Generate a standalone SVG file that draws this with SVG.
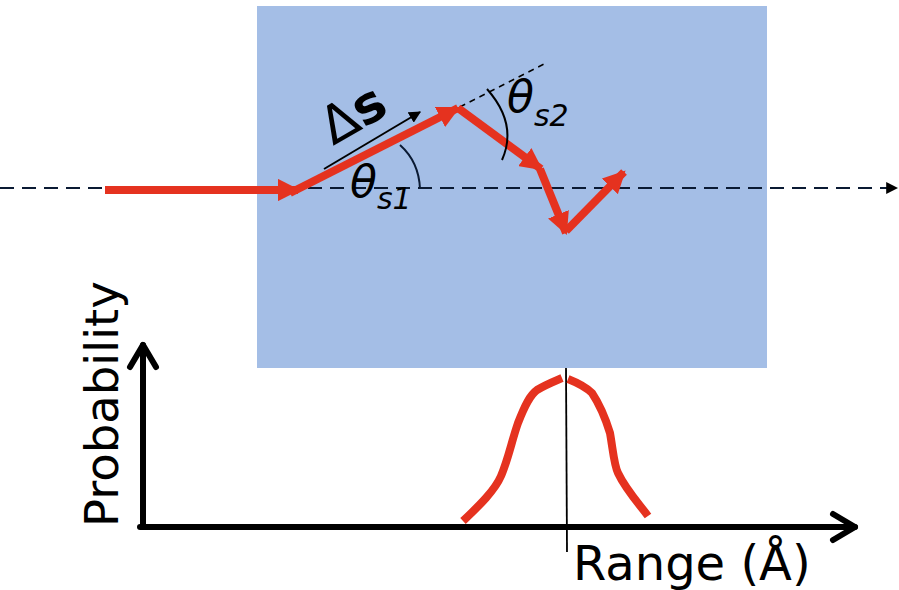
<svg xmlns="http://www.w3.org/2000/svg" width="899" height="590" viewBox="0 0 899 590">
<defs>
<style>
.red{fill:none;stroke:#E5321F;stroke-width:8;}
.redh{fill:#E5321F;}
.ax{fill:none;stroke:#000;stroke-width:6;stroke-linecap:round;stroke-linejoin:round;}
.lbl{font-family:"DejaVu Sans","Noto Sans",sans-serif;fill:#000;}
.th{font-family:"DejaVu Sans","Noto Sans",sans-serif;font-style:italic;fill:#000;}
</style>
<marker id="redArrow" viewBox="0 0 10 10" refX="9" refY="5" markerWidth="2.8" markerHeight="2.8" orient="auto" markerUnits="strokeWidth">
<path d="M0,0 L10,5 L0,10 z" class="redh"/>
</marker>
<marker id="blkArrow" viewBox="0 0 10 10" refX="9" refY="5" markerWidth="12" markerHeight="12" orient="auto" markerUnits="userSpaceOnUse">
<path d="M0,0 L10,5 L0,10 z" fill="#000"/>
</marker>
</defs>
<rect x="257" y="6" width="510" height="362" fill="#A4BEE6"/>
<g id="connectors">
<line x1="0" y1="188" x2="897" y2="188" stroke="#0a1a33" stroke-width="2" stroke-dasharray="14,8" marker-end="url(#blkArrow)"/>
<line x1="450" y1="112" x2="546" y2="63" stroke="#000" stroke-width="1.5" stroke-dasharray="6,5"/>
<line x1="105" y1="190" x2="298" y2="190" class="red" marker-end="url(#redArrow)"/>
<line x1="290" y1="193" x2="458" y2="108" class="red" marker-end="url(#redArrow)"/>
<line x1="458" y1="108" x2="541" y2="169" class="red" marker-end="url(#redArrow)"/>
<line x1="540" y1="169" x2="566" y2="233" class="red" marker-end="url(#redArrow)"/>
<line x1="566" y1="231" x2="624" y2="172" class="red" marker-end="url(#redArrow)"/>
<line x1="324" y1="169" x2="420" y2="112" stroke="#000" stroke-width="2" marker-end="url(#blkArrow)"/>
<path d="M400,145 Q419,162 420,189" fill="none" stroke="#0a1a33" stroke-width="2"/>
<path d="M487,89 Q518,124 502,160" fill="none" stroke="#000" stroke-width="2"/>
</g>
<g id="labels">
<text class="lbl" transform="translate(333,146) rotate(-30)" font-size="52"><tspan>Δ</tspan><tspan font-weight="bold">s</tspan></text>
<text class="th" x="350" y="197" font-size="44">θ<tspan font-size="30" dy="12">s1</tspan></text>
<text class="th" x="507" y="112" font-size="44">θ<tspan font-size="30" dy="14">s2</tspan></text>
</g>
<g id="plot">
<line x1="566" y1="368" x2="567" y2="552" stroke="#000" stroke-width="1.8"/>
<path d="M463,521 C480,505 495,490 501,476 C508,460 512,440 518,423 C525,405 530,395 537,390 C545,385 555,381 562,378" class="red" stroke-width="6"/>
<path d="M568,379 C578,383 587,388 592,393 C600,405 606,420 610,433 C613,450 614,465 618,473 C626,490 640,505 648,516" class="red" stroke-width="6"/>
<polyline points="143,527 143,345" class="ax"/>
<polyline points="130,367 143,345 156,367" class="ax"/>
<polyline points="140,527 855,527" class="ax"/>
<polyline points="833,514 855,527 833,540" class="ax"/>
<text class="lbl" transform="translate(118,527) rotate(-90)" font-size="46.5">Probability</text>
<text class="lbl" x="573" y="580" font-size="48">Range (Å)</text>
</g>
</svg>
